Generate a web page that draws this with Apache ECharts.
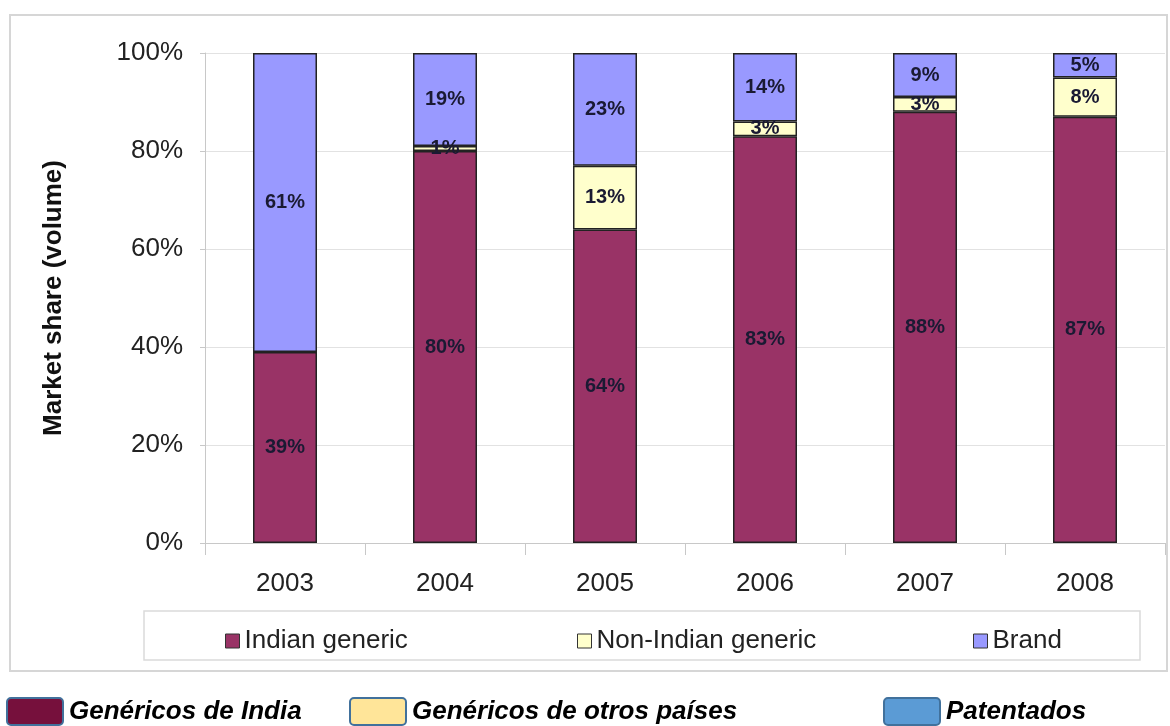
<!DOCTYPE html>
<html>
<head>
<meta charset="utf-8">
<script src="https://cdn.jsdelivr.net/npm/echarts@6/dist/echarts.min.js"></script>
<style>
  html, body { margin: 0; padding: 0; background: #fff; }
  #chart { width: 1170px; height: 726px; }
</style>
</head>
<body>
<div id="chart"></div>
<script>
    // data
    var years = ['2003', '2004', '2005', '2006', '2007', '2008'];
    var indianGeneric    = [39, 80, 64, 83, 88, 87];
    var nonIndianGeneric = [0, 1, 13, 3, 3, 8];
    var brand            = [61, 19, 23, 14, 9, 5];
    var yTicks = [0, 20, 40, 60, 80, 100];

    var seriesNames = ['Indian generic', 'Non-Indian generic', 'Brand'];
    var seriesColors = ['#993366', '#ffffcc', '#9999ff'];
    var bottomNotes = ['Genéricos de India', 'Genéricos de otros países', 'Patentados'];

    var font = '"Liberation Sans", Arial, sans-serif';
    var chart = echarts.init(document.getElementById('chart'));

    function barSeries(name, values, color) {
        return {
            name: name,
            type: 'bar',
            stack: 'share',
            barWidth: '40%',
            data: values,
            itemStyle: {
                color: color,
                borderColor: '#222',
                borderWidth: 1.5
            },
            label: {
                show: true,
                position: 'inside',
                fontFamily: font,
                fontSize: 20,
                fontWeight: 'bold',
                color: '#1a1a33',
                formatter: function (p) { return p.value > 0 ? p.value + '%' : ''; }
            }
        };
    }

    function legendAt(left, name) {
        return {
            left: left,
            top: 623,
            icon: 'rect',
            itemWidth: 14,
            itemHeight: 14,
            itemGap: 10,
            data: [name],
            itemStyle: { borderColor: '#333', borderWidth: 1 },
            textStyle: { fontFamily: font, fontSize: 26, color: '#222' },
            selectedMode: false
        };
    }

    // bottom annotation (rounded swatch + bold italic text)
    function note(x, fill, text) {
        return [
            {
                type: 'rect',
                shape: { x: x, y: 698, width: 56, height: 27, r: 4 },
                style: { fill: fill, stroke: '#41719c', lineWidth: 2 }
            },
            {
                type: 'text',
                x: x + 62,
                y: 712,
                style: {
                    text: text,
                    font: 'italic bold 26px ' + font,
                    fill: '#000',
                    verticalAlign: 'middle'
                }
            }
        ];
    }

    var option = {
        backgroundColor: '#fff',
        animation: false,
        grid: { left: 205, right: 5, top: 53, bottom: 183 },
        legend: [
            legendAt(220, seriesNames[0]),
            legendAt(572, seriesNames[1]),
            legendAt(968, seriesNames[2])
        ],
        xAxis: {
            type: 'category',
            data: years,
            axisLine: { lineStyle: { color: '#c8c8c8', width: 1 } },
            axisTick: { show: true, length: 12, lineStyle: { color: '#c8c8c8' } },
            axisLabel: { fontFamily: font, fontSize: 26, color: '#222', margin: 28 }
        },
        yAxis: {
            type: 'value',
            min: yTicks[0],
            max: yTicks[yTicks.length - 1],
            interval: yTicks[1] - yTicks[0],
            name: 'Market share (volume)',
            nameLocation: 'middle',
            nameGap: 138,
            nameTextStyle: { fontFamily: font, fontSize: 26, fontWeight: 'bold', color: '#111' },
            axisLine: { show: true, lineStyle: { color: '#c8c8c8' } },
            axisTick: { show: true, length: 5, lineStyle: { color: '#c8c8c8' } },
            splitLine: { lineStyle: { color: '#e2e2e2' } },
            axisLabel: {
                fontFamily: font, fontSize: 26, color: '#222', margin: 22,
                formatter: '{value}%'
            }
        },
        graphic: [
            {
                type: 'rect',
                z: -10,
                shape: { x: 10, y: 15, width: 1157, height: 656 },
                style: { fill: 'none', stroke: '#d6d6d6', lineWidth: 2 }
            },
            {
                type: 'rect',
                z: -10,
                shape: { x: 144, y: 611, width: 996, height: 49 },
                style: { fill: 'none', stroke: '#dadada', lineWidth: 1.5 }
            }
        ].concat(note(7, '#76103c', bottomNotes[0]))
         .concat(note(350, '#ffe599', bottomNotes[1]))
         .concat(note(884, '#5b9bd5', bottomNotes[2])),
        series: [
            barSeries(seriesNames[0], indianGeneric, seriesColors[0]),
            barSeries(seriesNames[1], nonIndianGeneric, seriesColors[1]),
            barSeries(seriesNames[2], brand, seriesColors[2])
        ]
    };

    chart.setOption(option);
</script>
</body>
</html>
